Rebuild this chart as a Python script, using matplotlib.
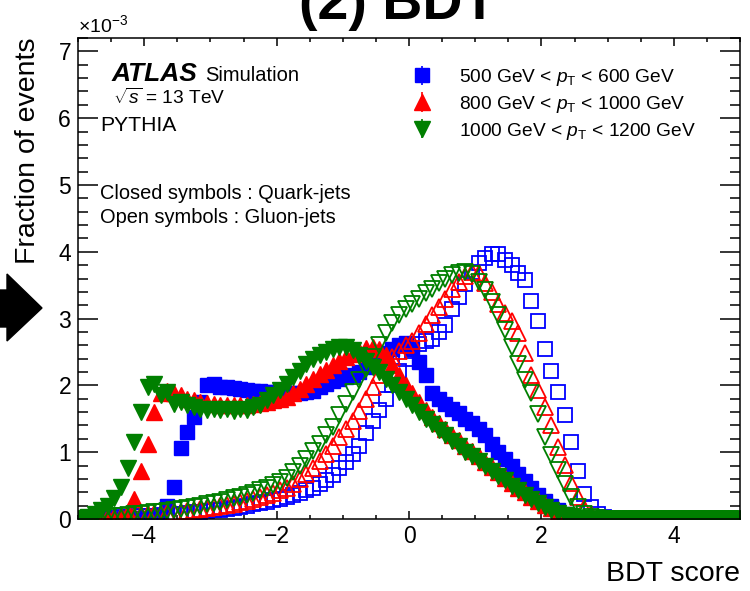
import numpy as np
import matplotlib
matplotlib.use('Agg')
import matplotlib.pyplot as plt
from matplotlib.patches import Polygon
from matplotlib.ticker import MultipleLocator

plt.rcParams['font.family'] = ['Liberation Sans', 'DejaVu Sans']
plt.rcParams['mathtext.fontset'] = 'custom'
plt.rcParams['mathtext.rm'] = 'Liberation Sans'
plt.rcParams['mathtext.it'] = 'Liberation Sans:italic'
plt.rcParams['mathtext.bf'] = 'Liberation Sans:bold'

# BDT score histograms, 100 bins from -5 to 5, fractions in units of 1e-3
bdt_edges = np.linspace(-5, 5, 101)
bdt = 0.5 * (bdt_edges[:-1] + bdt_edges[1:])

quark_500 = [0.00, 0.00, 0.00, 0.00, 0.00, 0.00, 0.00, 0.01, 0.01, 0.01,
             0.02, 0.03, 0.06, 0.20, 0.48, 1.06, 1.30, 1.53, 1.75, 2.00,
             2.02, 1.98, 1.97, 1.96, 1.95, 1.93, 1.92, 1.92, 1.90, 1.90,
             1.88, 1.88, 1.88, 1.89, 1.90, 1.92, 1.97, 2.02, 2.06, 2.10,
             2.13, 2.15, 2.20, 2.27, 2.33, 2.40, 2.48, 2.55, 2.60, 2.63,
             2.55, 2.35, 2.15, 1.88, 1.80, 1.72, 1.65, 1.58, 1.50, 1.43,
             1.35, 1.25, 1.12, 1.00, 0.90, 0.80, 0.68, 0.57, 0.46, 0.36,
             0.27, 0.20, 0.13, 0.08, 0.05, 0.02, 0.01, 0.00, 0.00, 0.00,
             0.00, 0.00, 0.00, 0.00, 0.00, 0.00, 0.00, 0.00, 0.00, 0.00,
             0.00, 0.00, 0.00, 0.00, 0.00, 0.00, 0.00, 0.00, 0.00, 0.00]
gluon_500 = [0.00, 0.00, 0.01, 0.01, 0.02, 0.02, 0.03, 0.03, 0.04, 0.04,
             0.05, 0.05, 0.06, 0.07, 0.07, 0.08, 0.09, 0.10, 0.11, 0.12,
             0.13, 0.14, 0.15, 0.17, 0.18, 0.20, 0.22, 0.24, 0.26, 0.28,
             0.30, 0.33, 0.36, 0.39, 0.43, 0.47, 0.52, 0.58, 0.66, 0.76,
             0.86, 0.97, 1.10, 1.28, 1.46, 1.63, 1.80, 2.00, 2.22, 2.40,
             2.52, 2.62, 2.66, 2.70, 2.80, 2.90, 3.15, 3.33, 3.52, 3.70,
             3.83, 3.90, 3.96, 3.97, 3.88, 3.80, 3.68, 3.58, 3.27, 2.97,
             2.55, 2.22, 1.90, 1.55, 1.15, 0.72, 0.38, 0.18, 0.08, 0.03,
             0.01, 0.00, 0.00, 0.00, 0.00, 0.00, 0.00, 0.00, 0.00, 0.00,
             0.00, 0.00, 0.00, 0.00, 0.00, 0.00, 0.00, 0.00, 0.00, 0.00]
quark_800 = [0.00, 0.00, 0.00, 0.00, 0.00, 0.02, 0.05, 0.10, 0.30, 0.72,
             1.12, 1.60, 1.88, 1.92, 1.88, 1.85, 1.80, 1.78, 1.75, 1.73,
             1.72, 1.70, 1.70, 1.70, 1.70, 1.70, 1.72, 1.73, 1.75, 1.78,
             1.80, 1.83, 1.88, 1.95, 2.02, 2.10, 2.17, 2.23, 2.30, 2.36,
             2.42, 2.47, 2.52, 2.56, 2.58, 2.55, 2.45, 2.30, 2.15, 2.00,
             1.88, 1.75, 1.63, 1.53, 1.43, 1.34, 1.26, 1.18, 1.10, 1.02,
             0.94, 0.86, 0.78, 0.70, 0.62, 0.54, 0.47, 0.40, 0.33, 0.27,
             0.21, 0.16, 0.11, 0.07, 0.04, 0.02, 0.01, 0.00, 0.00, 0.00,
             0.00, 0.00, 0.00, 0.00, 0.00, 0.00, 0.00, 0.00, 0.00, 0.00,
             0.00, 0.00, 0.00, 0.00, 0.00, 0.00, 0.00, 0.00, 0.00, 0.00]
gluon_800 = [0.00, 0.00, 0.01, 0.01, 0.02, 0.02, 0.03, 0.04, 0.05, 0.06,
             0.07, 0.07, 0.08, 0.09, 0.10, 0.11, 0.12, 0.13, 0.15, 0.16,
             0.18, 0.19, 0.21, 0.23, 0.25, 0.27, 0.30, 0.33, 0.36, 0.39,
             0.43, 0.47, 0.53, 0.60, 0.68, 0.77, 0.87, 0.98, 1.10, 1.22,
             1.35, 1.47, 1.62, 1.80, 1.98, 2.15, 2.30, 2.42, 2.52, 2.60,
             2.66, 2.78, 2.92, 3.06, 3.18, 3.30, 3.45, 3.55, 3.63, 3.70,
             3.68, 3.53, 3.40, 3.22, 3.08, 2.96, 2.78, 2.48, 2.16, 1.93,
             1.68, 1.41, 1.08, 0.81, 0.54, 0.33, 0.16, 0.07, 0.03, 0.01,
             0.00, 0.00, 0.00, 0.00, 0.00, 0.00, 0.00, 0.00, 0.00, 0.00,
             0.00, 0.00, 0.00, 0.00, 0.00, 0.00, 0.00, 0.00, 0.00, 0.00]
quark_1000 = [0.00, 0.03, 0.07, 0.13, 0.20, 0.32, 0.48, 0.76, 1.15, 1.60,
              1.98, 2.02, 1.85, 1.90, 1.72, 1.75, 1.70, 1.68, 1.65, 1.63,
              1.65, 1.63, 1.65, 1.62, 1.65, 1.63, 1.67, 1.70, 1.78, 1.85,
              1.93, 2.02, 2.12, 2.22, 2.32, 2.40, 2.46, 2.50, 2.55, 2.58,
              2.57, 2.53, 2.45, 2.36, 2.28, 2.20, 2.10, 2.00, 1.90, 1.80,
              1.70, 1.60, 1.50, 1.42, 1.33, 1.25, 1.17, 1.09, 1.01, 0.94,
              0.87, 0.79, 0.72, 0.65, 0.58, 0.50, 0.43, 0.36, 0.30, 0.24,
              0.18, 0.13, 0.09, 0.06, 0.04, 0.02, 0.01, 0.00, 0.00, 0.00,
              0.00, 0.00, 0.00, 0.00, 0.00, 0.00, 0.00, 0.00, 0.00, 0.00,
              0.00, 0.00, 0.00, 0.00, 0.00, 0.00, 0.00, 0.00, 0.00, 0.00]
gluon_1000 = [0.00, 0.01, 0.01, 0.02, 0.03, 0.04, 0.05, 0.06, 0.07, 0.08,
              0.09, 0.10, 0.11, 0.12, 0.13, 0.15, 0.16, 0.18, 0.20, 0.22,
              0.24, 0.26, 0.28, 0.31, 0.33, 0.36, 0.39, 0.43, 0.47, 0.51,
              0.56, 0.62, 0.70, 0.80, 0.90, 1.02, 1.13, 1.25, 1.38, 1.55,
              1.72, 1.90, 2.08, 2.25, 2.42, 2.60, 2.78, 2.93, 3.05, 3.15,
              3.22, 3.30, 3.38, 3.45, 3.53, 3.60, 3.65, 3.68, 3.70, 3.66,
              3.55, 3.43, 3.25, 3.05, 2.83, 2.58, 2.32, 2.08, 1.88, 1.57,
              1.22, 0.96, 0.73, 0.53, 0.33, 0.18, 0.08, 0.03, 0.01, 0.00,
              0.00, 0.00, 0.00, 0.00, 0.00, 0.00, 0.00, 0.00, 0.00, 0.00,
              0.00, 0.00, 0.00, 0.00, 0.00, 0.00, 0.00, 0.00, 0.00, 0.00]

pt_labels = [r'500 GeV < $p_{\mathrm{T}}$ < 600 GeV',
             r'800 GeV < $p_{\mathrm{T}}$ < 1000 GeV',
             r'1000 GeV < $p_{\mathrm{T}}$ < 1200 GeV']
quark_sets = [quark_500, quark_800, quark_1000]
gluon_sets = [gluon_500, gluon_800, gluon_1000]
colors = ['#0000ff', '#ff0000', '#007f00']
markers = ['s', '^', 'v']
msizes = [10, 11, 11]

W, H = 750, 591
fig = plt.figure(figsize=(W / 100, H / 100), dpi=100)
ax = fig.add_axes([78 / W, 1 - 519 / H, 662 / W, 481 / H])

handles = []
for q, g, c, m, ms, lab in zip(quark_sets, gluon_sets, colors, markers, msizes, pt_labels):
    ax.plot(bdt, q, ls='none', marker=m, ms=ms, color=c, mec=c)
    ax.plot(bdt, g, ls='none', marker=m, ms=ms, mfc='none', mec=c, mew=1.3)
    h = ax.errorbar([], [], yerr=[], fmt=m, ms=ms, color=c, elinewidth=1.2, capsize=0)
    handles.append(h)

ax.set_xlim(-5, 5)
ax.set_ylim(0, 7.2)
ax.xaxis.set_major_locator(MultipleLocator(2))
ax.xaxis.set_minor_locator(MultipleLocator(0.5))
ax.yaxis.set_major_locator(MultipleLocator(1))
ax.yaxis.set_minor_locator(MultipleLocator(0.2))
ax.tick_params(axis='both', which='both', direction='in', top=True, right=True,
               labelsize=16.5, width=1.1)
ax.tick_params(axis='x', which='major', length=6, pad=4)
ax.tick_params(axis='x', which='minor', length=3)
ax.tick_params(axis='y', which='major', length=14.4, pad=5)
ax.tick_params(axis='y', which='minor', length=7.2)
for s in ax.spines.values():
    s.set_linewidth(1.1)

ax.set_xlabel('BDT score', fontsize=20.5, loc='right')
ax.xaxis.set_label_coords(1.0, -0.088)
ax.set_ylabel('Fraction of events', fontsize=20.5, loc='top')
ax.yaxis.set_label_coords(-0.056, 1.0)

ax.text(0.0, 1.004, r'$\times$10$^{-3}$', transform=ax.transAxes, fontsize=14,
        ha='left', va='bottom')

leg = ax.legend(handles, pt_labels, loc='upper left',
                bbox_to_anchor=((412 - 78) / 662, (519 - 67) / 481),
                frameon=False, fontsize=13.8, borderpad=0, handlelength=1.0,
                handletextpad=1.45, labelspacing=0.3, borderaxespad=0)

# ATLAS label block
def fx(px):
    return px / W


def fy(py):
    return 1 - py / H


fig.text(fx(112), fy(81), 'ATLAS', fontsize=19, fontweight='bold', fontstyle='italic')
fig.text(fx(205), fy(81), 'Simulation', fontsize=14.5)
fig.text(fx(113), fy(104), r'$\sqrt{s}$ = 13 TeV', fontsize=13.8)
fig.text(fx(100), fy(131), 'PYTHIA', fontsize=15.2)
fig.text(fx(100), fy(199), 'Closed symbols : Quark-jets', fontsize=14.4)
fig.text(fx(100), fy(223), 'Open symbols : Gluon-jets', fontsize=14.4)

# cropped title and side arrow from the original slide
fig.text(fx(398), fy(19), '(2) BDT', fontsize=40, fontweight='bold', ha='center',
         va='baseline')
arrow = Polygon([(fx(0), fy(290)), (fx(7), fy(290)), (fx(7), fy(274)), (fx(42), fy(308)),
                 (fx(7), fy(341)), (fx(7), fy(327)), (fx(0), fy(327))],
                closed=True, color='black', transform=fig.transFigure)
fig.patches.append(arrow)

fig.savefig('out.png', dpi=100)
